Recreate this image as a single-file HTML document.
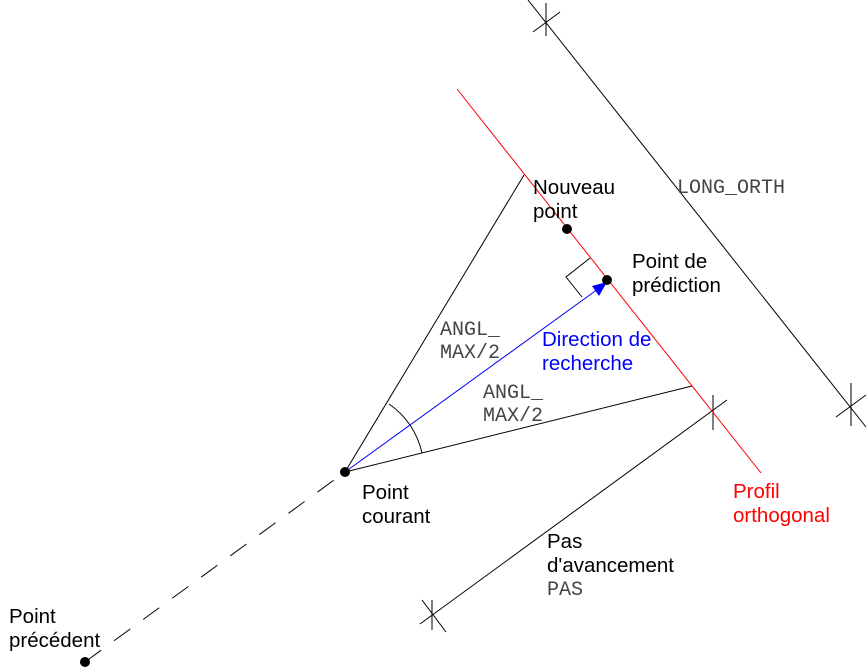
<!DOCTYPE html>
<html><head><meta charset="utf-8"><style>
html,body{margin:0;padding:0;background:#fff}
svg{display:block}
.s{font-family:"Liberation Sans",sans-serif;font-size:20.5px;fill:#000}
.m{font-family:"Liberation Mono",monospace;font-size:20px;fill:#444}
</style></head><body>
<svg width="867" height="670" viewBox="0 0 867 670" xmlns="http://www.w3.org/2000/svg">
<g stroke="#000" stroke-width="1" fill="none">
<line x1="528" y1="0" x2="866" y2="427"/>
<line x1="546" y1="3" x2="546" y2="36"/>
<line x1="533" y1="32" x2="560" y2="12"/>
<line x1="851" y1="383" x2="851" y2="426"/>
<line x1="836" y1="417" x2="866" y2="395"/>
<line x1="345" y1="472" x2="524" y2="175"/>
<line x1="345" y1="472" x2="692" y2="386"/>
<path d="M389 404 A80 80 0 0 1 422 453"/>
<polyline points="590,258 566,277 582,297"/>
<line x1="420" y1="624" x2="727" y2="400"/>
<line x1="713" y1="395" x2="713" y2="430"/>
<line x1="432" y1="600" x2="432" y2="630"/>
<line x1="422" y1="600" x2="446" y2="632"/>
<line x1="85" y1="662" x2="345" y2="472" stroke-dasharray="20 16"/>
</g>
<line x1="457" y1="89" x2="761" y2="473" stroke="#f00" stroke-width="1"/>
<line x1="345" y1="472" x2="598" y2="289" stroke="#00f" stroke-width="1"/>
<polygon points="607,282 592,286 599,296" fill="#00f"/>
<circle cx="345" cy="472" r="5" fill="#000"/>
<circle cx="607" cy="280" r="5" fill="#000"/>
<circle cx="567" cy="229" r="5" fill="#000"/>
<circle cx="85" cy="662" r="5" fill="#000"/>
<text class="s" x="533" y="194">Nouveau</text>
<text class="s" x="533" y="218">point</text>
<text class="s" x="632" y="268">Point de</text>
<text class="s" x="632" y="292">prédiction</text>
<text class="m" x="677" y="193">LONG_ORTH</text>
<text class="s" x="542" y="346" style="fill:#00f">Direction de</text>
<text class="s" x="542" y="370" style="fill:#00f">recherche</text>
<text class="m" x="440" y="335">ANGL_</text>
<text class="m" x="440" y="358">MAX/2</text>
<text class="m" x="483" y="398">ANGL_</text>
<text class="m" x="483" y="421">MAX/2</text>
<text class="s" x="362" y="499">Point</text>
<text class="s" x="362" y="523">courant</text>
<text class="s" x="733" y="498" style="fill:#f00">Profil</text>
<text class="s" x="733" y="522" style="fill:#f00">orthogonal</text>
<text class="s" x="547" y="548">Pas</text>
<text class="s" x="547" y="572">d'avancement</text>
<text class="m" x="547" y="595">PAS</text>
<text class="s" x="9" y="623">Point</text>
<text class="s" x="9" y="647">précédent</text>
</svg>
</body></html>
